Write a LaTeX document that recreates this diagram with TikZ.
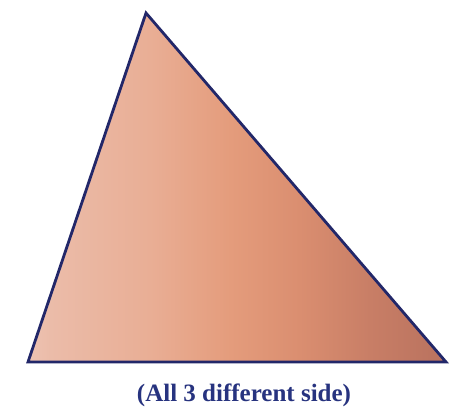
\documentclass[tikz,border=0pt]{standalone}
\usepackage{fontspec}
\setmainfont{Liberation Serif}
\definecolor{edgeblue}{HTML}{222769}
\definecolor{textblue}{HTML}{27337F}
\definecolor{fillA}{HTML}{EEC3B2}
\definecolor{fillB}{HTML}{EBBCA9}
\definecolor{fillC}{HTML}{E9AE95}
\definecolor{fillD}{HTML}{E49C7C}
\definecolor{fillE}{HTML}{DA8E70}
\definecolor{fillF}{HTML}{C87E66}
\definecolor{fillG}{HTML}{BC7460}
\pgfdeclarehorizontalshading{trishade}{100bp}{color(0bp)=(fillA); color(25bp)=(fillA); color(27.6bp)=(fillB); color(39.6bp)=(fillC); color(49.2bp)=(fillD); color(57.5bp)=(fillE); color(65.9bp)=(fillF); color(73.1bp)=(fillG); color(75bp)=(fillG); color(100bp)=(fillG)}
\begin{document}
\begin{tikzpicture}[x=1pt,y=1pt,
  edge/.style={draw=edgeblue,line width=2.8pt,line join=miter},
  caption/.style={text=textblue,font=\bfseries\fontsize{25}{28}\selectfont}]
\useasboundingbox (0,0) rectangle (474,409);
\coordinate (A) at (146,396);
\coordinate (B) at (28,47);
\coordinate (C) at (446,47);
\shade[shading=trishade] (A) -- (B) -- (C) -- cycle;
\draw[edge] (A) -- (B) -- (C) -- cycle;
\node[caption] (cap) at (244,14) {(All 3 different side)};
\end{tikzpicture}
\end{document}
